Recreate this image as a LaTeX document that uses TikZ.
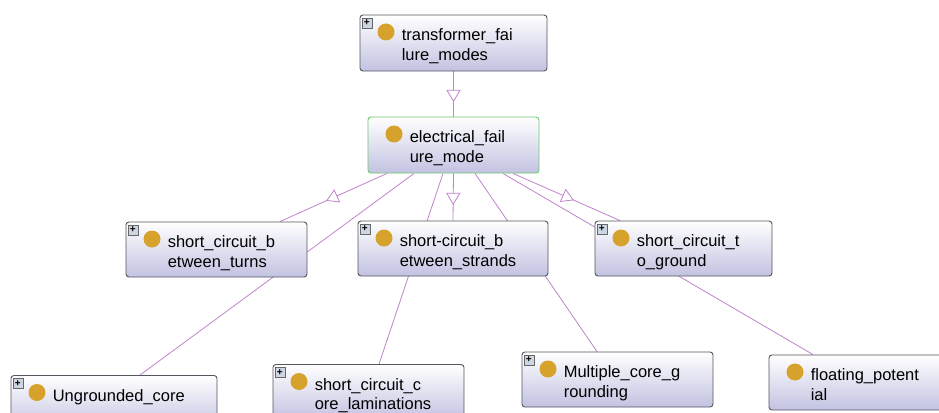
\documentclass[tikz,border=0pt]{standalone}
\usepackage{fontspec}
\setmainfont{Liberation Sans}
\usepackage{xcolor}
\usetikzlibrary{arrows.meta,positioning,shapes.geometric,backgrounds}
\definecolor{linkcol}{RGB}{192,132,204}
\definecolor{boxbot}{RGB}{194,194,226}
\definecolor{boxedge}{RGB}{85,85,95}
\definecolor{selgreen}{RGB}{112,200,112}
\definecolor{dotcol}{RGB}{214,162,44}
\definecolor{plusfill}{RGB}{205,214,228}

\begin{document}
\begin{tikzpicture}[
 x=1pt,y=-1pt,
 cls/.style={draw=boxedge,line width=0.9pt,rounded corners=3pt,top color=white,bottom color=boxbot,
  minimum height=55pt,inner sep=0pt,
  path picture={\fill[dotcol] ([xshift=26pt,yshift=-17pt]path picture bounding box.north west) circle (8.5pt);}},
 folded/.style={append after command={([shift={(2pt,-3pt)}]\tikzlastnode.north west)
  node[plusicon,anchor=north west] {+}}},
 plusicon/.style={draw=gray!80!black,fill=plusfill,line width=0.6pt,minimum size=10pt,inner sep=0pt,
  font=\bfseries\fontsize{10}{10}\selectfont},
 lbl/.style={anchor=north west,align=left,inner sep=0pt,font=\fontsize{16.5}{19.5}\selectfont},
 link/.style={draw=linkcol,line width=0.8pt},
 tri/.style={isosceles triangle,isosceles triangle stretches,draw=linkcol,fill=white,line width=0.8pt,
  sloped,allow upside down,minimum width=13pt,minimum height=11pt,inner sep=0pt}]
\path[use as bounding box,clip] (0,0) rectangle (939,412);

\node[cls,folded,minimum width=187pt,minimum height=56pt] (tfm) at (453.5,43) {};
\node[lbl] (tfm-l) at ([shift={(42pt,-14pt)}]tfm.north west) {transformer\_fai\\lure\_modes};
\node[cls,draw=selgreen,minimum width=171pt,minimum height=56pt] (elec) at (453.5,145) {};
\node[lbl] (elec-l) at ([shift={(42pt,-14pt)}]elec.north west) {electrical\_fail\\ure\_mode};

\node[cls,folded,minimum width=181pt] (turns) at (216.5,249.5) {};
\node[lbl] (turns-l) at ([shift={(42pt,-14pt)}]turns.north west) {short\_circuit\_b\\etween\_turns};
\node[cls,folded,minimum width=190pt] (strands) at (453,248.5) {};
\node[lbl] (strands-l) at ([shift={(42pt,-14pt)}]strands.north west) {short-circuit\_b\\etween\_strands};
\node[cls,folded,minimum width=177pt] (ground) at (683.5,248.5) {};
\node[lbl] (ground-l) at ([shift={(42pt,-14pt)}]ground.north west) {short\_circuit\_t\\o\_ground};

\node[cls,folded,minimum width=206pt] (ungr) at (114,403) {};
\node[lbl] (ungr-l) at ([shift={(42pt,-14pt)}]ungr.north west) {Ungrounded\_core};
\node[cls,folded,minimum width=191pt] (lam) at (368.5,392) {};
\node[lbl] (lam-l) at ([shift={(42pt,-14pt)}]lam.north west) {short\_circuit\_c\\ore\_laminations};
\node[cls,folded,minimum width=191pt] (mult) at (617.5,379.5) {};
\node[lbl] (mult-l) at ([shift={(42pt,-14pt)}]mult.north west) {Multiple\_core\_g\\rounding};
\node[cls,minimum width=177pt] (flo) at (857.5,382.5) {};
\node[lbl] (flo-l) at ([shift={(42pt,-14pt)}]flo.north west) {floating\_potent\\ial};

\begin{scope}[on background layer]
\fill[white] (0,0) rectangle (939,412);
\draw[link] (tfm.south) -- (elec.north) node[tri,midway] (t1) {};
\draw[link] ([xshift=-66.5pt]elec.south) -- ([xshift=63.5pt]turns.north) node[tri,midway] (t2) {};
\draw[link] ([xshift=-39.5pt]elec.south) -- ([xshift=26pt]ungr.north);
\draw[link] (elec.south) -- (strands.north) node[tri,midway] (t3) {};
\draw[link] ([xshift=-10.5pt]elec.south) -- ([xshift=10.5pt]lam.north);
\draw[link] ([xshift=21.5pt]elec.south) -- ([xshift=-20.5pt]mult.north);
\draw[link] ([xshift=49.5pt]elec.south) -- ([xshift=-44.5pt]flo.north);
\draw[link] ([xshift=59.5pt]elec.south) -- ([xshift=-63.5pt]ground.north) node[tri,midway] (t4) {};
\end{scope}
\end{tikzpicture}
\end{document}
